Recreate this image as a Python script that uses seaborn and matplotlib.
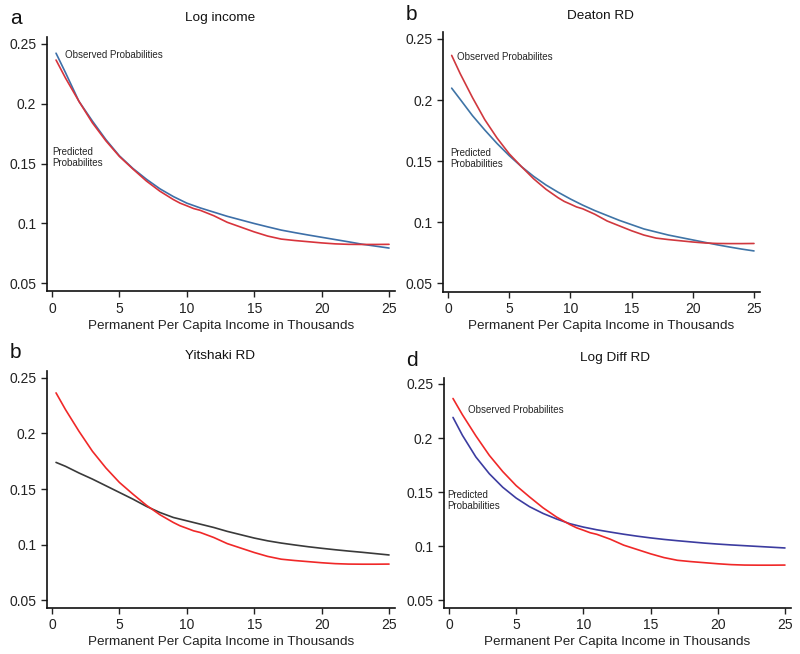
import numpy as np
import pandas as pd
import matplotlib
matplotlib.use("Agg")
import matplotlib.pyplot as plt
import seaborn as sns

# -- Observed probabilities (same curve in every panel)
obs_x = [0.3, 1, 2, 3, 4, 5, 6, 7, 8, 9, 9.5, 10, 10.5, 11, 12, 13, 14, 15, 16,
         17, 18, 19, 20, 21, 22, 23, 24, 25]
obs_y = [0.2365, 0.2215, 0.202, 0.184, 0.169, 0.156, 0.1455, 0.1355, 0.127,
         0.120, 0.117, 0.1148, 0.1125, 0.111, 0.1065, 0.101, 0.097, 0.093,
         0.0895, 0.087, 0.0858, 0.0848, 0.0838, 0.083, 0.0826, 0.0825, 0.0825,
         0.0826]

# -- Predicted probabilities per model
pred_x = [0.3, 1, 2, 3, 4, 5, 6, 7, 8, 9, 10, 11, 12, 13, 14, 15, 16, 17, 18,
          19, 20, 21, 22, 23, 24, 25]
pred_log_income = [0.2422, 0.226, 0.202, 0.1855, 0.170, 0.1565, 0.146, 0.137,
                   0.129, 0.1225, 0.117, 0.113, 0.1095, 0.106, 0.103, 0.100,
                   0.0972, 0.0945, 0.0924, 0.0904, 0.0885, 0.0866, 0.0847,
                   0.0827, 0.0811, 0.0795]
pred_deaton = [0.2097, 0.2005, 0.1872, 0.1755, 0.1645, 0.1545, 0.1455, 0.1375,
               0.1305, 0.1245, 0.119, 0.114, 0.1095, 0.1055, 0.1015, 0.098,
               0.0945, 0.092, 0.0895, 0.0875, 0.0855, 0.0835, 0.0815, 0.0797,
               0.078, 0.0765]
pred_yitshaki = [0.174, 0.1705, 0.1645, 0.159, 0.153, 0.147, 0.141, 0.1345,
                 0.129, 0.1245, 0.1215, 0.1185, 0.1155, 0.112, 0.109, 0.106,
                 0.1035, 0.1015, 0.0998, 0.0982, 0.0968, 0.0955, 0.0943,
                 0.0932, 0.092, 0.0908]
pred_logdiff = [0.219, 0.2025, 0.1825, 0.167, 0.1545, 0.1445, 0.1365, 0.1303,
                0.1252, 0.1208, 0.1177, 0.1152, 0.1131, 0.1111, 0.1093, 0.1077,
                0.1063, 0.1051, 0.104, 0.1029, 0.102, 0.1012, 0.1005, 0.0998,
                0.0991, 0.0984]

panel_letters = ["a", "b", "b", "d"]
panel_titles = ["Log income", "Deaton RD", "Yitshaki RD", "Log Diff RD"]
xticks = [0, 5, 10, 15, 20, 25]
yticks = [0.05, 0.1, 0.15, 0.2, 0.25]
ytick_labels = ["0.05", "0.1", "0.15", "0.2", "0.25"]

sns.set_style("ticks")
plt.rcParams["font.family"] = ["Liberation Sans", "DejaVu Sans"]

W, H = 800, 654
fig = plt.figure(figsize=(W / 100, H / 100), dpi=100)

XLIM = (-0.4, 25.45)
YLIM = (0.0433, 0.2559)


def add_ax(left, top, width, bottom):
    # pixel box (top-origin) -> figure fraction
    return fig.add_axes([left / W, 1 - bottom / H, width / W, (bottom - top) / H])


boxes = [
    (46.6, 36.8, 348.5, 291.4),
    (443.1, 31.7, 316.4, 291.5),
    (46.6, 371.3, 348.5, 607.8),
    (443.6, 377.5, 347.4, 607.6),
]
preds = [pred_log_income, pred_deaton, pred_yitshaki, pred_logdiff]
pred_colors = ["#3d6fa8", "#3f74a6", "#3a3a3a", "#3c3ca0"]
obs_colors = ["#d8343c", "#d0383e", "#f02828", "#f02828"]
letter_pos = [(10, 18), (406, 14), (10, 353), (406, 360)]
title_pos = [(220, 18), (600, 16), (220, 356), (615, 358)]

obs_df = pd.DataFrame({"income": obs_x, "prob": obs_y})

for i, (box, pred) in enumerate(zip(boxes, preds)):
    ax = add_ax(*box)
    pred_df = pd.DataFrame({"income": pred_x, "prob": pred})
    sns.lineplot(data=pred_df, x="income", y="prob", ax=ax,
                 color=pred_colors[i], linewidth=1.2)
    sns.lineplot(data=obs_df, x="income", y="prob", ax=ax,
                 color=obs_colors[i], linewidth=1.2)
    ax.set_xlim(*XLIM)
    ax.set_ylim(*YLIM)
    ax.set_xticks(xticks)
    ax.set_yticks(yticks)
    ax.set_yticklabels(ytick_labels)
    ax.tick_params(labelsize=10, length=4, width=1, colors="#222222",
                   direction="out")
    ax.set_xlabel("Permanent Per Capita Income in Thousands", fontsize=9.7,
                  color="#222222", labelpad=3)
    ax.set_ylabel("")
    for s in ["left", "bottom"]:
        ax.spines[s].set_linewidth(1.2)
        ax.spines[s].set_color("#111111")
    sns.despine(ax=ax)

    fig.text(letter_pos[i][0] / W, 1 - letter_pos[i][1] / H, panel_letters[i],
             fontsize=15, ha="left", va="center", color="#111111")
    fig.text(title_pos[i][0] / W, 1 - title_pos[i][1] / H, panel_titles[i],
             fontsize=9.7, ha="center", va="center", color="#111111")

    if i == 0:
        ax.text(0.96, 0.2405, "Observed Probabilities", fontsize=7, va="center")
        ax.text(0.0, 0.155, "Predicted\nProbabilites", fontsize=7, va="center",
                linespacing=1.1)
    elif i == 1:
        ax.text(0.75, 0.2355, "Observed Probabilites", fontsize=7, va="center")
        ax.text(0.15, 0.152, "Predicted\nProbabilities", fontsize=7,
                va="center", linespacing=1.1)
    elif i == 3:
        ax.text(1.4, 0.2255, "Observed Probabilites", fontsize=7, va="center")
        ax.text(-0.1, 0.1425, "Predicted\nProbabilities", fontsize=7,
                va="center", linespacing=1.1)

fig.savefig("out.png", dpi=100)
